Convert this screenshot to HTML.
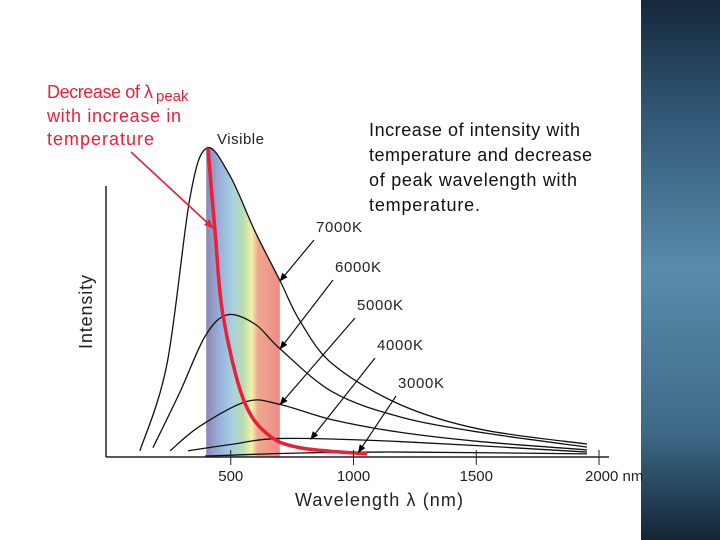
<!DOCTYPE html>
<html><head><meta charset="utf-8"><style>
html,body{margin:0;padding:0;background:#fff;width:720px;height:540px;overflow:hidden}
svg{display:block}
text{font-family:"Liberation Sans",sans-serif}
</style></head><body>
<svg id="chart" width="720" height="540" viewBox="0 0 720 540">
<defs>
<linearGradient id="side" x1="0" y1="0" x2="0" y2="1">
<stop offset="0" stop-color="#15283a"/><stop offset="0.2" stop-color="#2f5573"/><stop offset="0.5" stop-color="#5a8bab"/><stop offset="0.8" stop-color="#3e6a88"/><stop offset="1" stop-color="#132536"/>
</linearGradient>
<linearGradient id="spec" x1="0" y1="0" x2="1" y2="0">
<stop offset="0" stop-color="#8a88b4"/><stop offset="0.2" stop-color="#9ab4dc"/><stop offset="0.35" stop-color="#a8d0e0"/><stop offset="0.5" stop-color="#b8dcb0"/><stop offset="0.62" stop-color="#f4f0a8"/><stop offset="0.7" stop-color="#f0a890"/><stop offset="1" stop-color="#ee8c84"/>
</linearGradient>
<clipPath id="under7000"><path id="clip7000"/></clipPath>
<marker id="ah" viewBox="0 0 10 10" refX="9" refY="5" markerWidth="7" markerHeight="7" orient="auto"><path d="M0,1 L10,5 L0,9 z" fill="#000"/></marker>
<marker id="ahr" viewBox="0 0 10 10" refX="9" refY="5" markerWidth="6" markerHeight="6" orient="auto"><path d="M0,1 L10,5 L0,9 z" fill="#e8203a"/></marker>
</defs>
<rect x="641" y="0" width="79" height="540" fill="url(#side)"/>
<g id="marks"></g>
<line x1="106" y1="186" x2="106" y2="457" stroke="#222" stroke-width="1.5"/>
<line x1="106" y1="457" x2="609" y2="457" stroke="#222" stroke-width="1.5"/>
<g id="ticks"></g>
<text x="92" y="312" font-size="18" fill="#222" text-anchor="middle" textLength="74" transform="rotate(-90 92 312)">Intensity</text>
<text x="295" y="506" font-size="18" fill="#222" textLength="168">Wavelength &#955;  (nm)</text>
<g fill="#e8203a" font-size="18">
<text x="47" y="98"><tspan textLength="106">Decrease of &#955;</tspan><tspan font-size="15" dy="3" x="156">peak</tspan></text>
<text x="47" y="122" textLength="134">with increase in</text>
<text x="47" y="145" textLength="107">temperature</text>
</g>
<text x="217" y="144" font-size="15" fill="#222" textLength="47">Visible</text>
<g fill="#111" font-size="18">
<text x="369" y="136" textLength="211">Increase of intensity with</text>
<text x="369" y="161" textLength="223">temperature and decrease</text>
<text x="369" y="186" textLength="208">of peak wavelength with</text>
<text x="369" y="211" textLength="111">temperature.</text>
</g>
<line x1="131" y1="152" x2="213" y2="228" stroke="#e8203a" stroke-width="1.6" marker-end="url(#ahr)"/>
<g id="labels" font-size="15" fill="#222"></g>
</svg>
<script>
const tickValues=[500,1000,1500,2000];
const tickLabels=["500","1000","1500","2000 nm"];
const temps=["7000K","6000K","5000K","4000K","3000K"];
const wl7000=[130,240,334,403,497,599,701,782,916,1189,1515,1951];
const in7000=[2,30,84,100,91,73,57,44,30,17,9,4.2];
const wl6000=[183,293,395,485,599,701,916,1189,1515,1951];
const in6000=[3,21,39,46,43,35,21,13,8,3.2];
const wl5000=[253,375,566,701,916,1189,1515,1951];
const in5000=[2,10,18,17,12,8,5,2.3];
const wl4000=[326,497,713,1189,1951];
const in4000=[2,4,6,5,1.6];
const wl3000=[395,782,1189,1951];
const in3000=[0.3,1.3,1.6,1];
const wlPeak=[407,436,468,550,648,782,1055];
const inPeak=[100,73,46,19,7.5,3,1];
const visibleRange=[400,700];
const labelPos=[[316,232],[335,272],[357,310],[377,350],[398,388]];
const arrowTargetWl=[701,701,701,826,1020];

const xs=nm=>108+nm*0.2455;
const ys=v=>457-v*3.09;
const NS="http://www.w3.org/2000/svg";
const marks=document.getElementById('marks');
function smooth(wl,iv){
  const p=wl.map((w,i)=>[xs(w),ys(iv[i])]);
  let d="M"+p[0][0]+","+p[0][1];
  for(let i=0;i<p.length-1;i++){
    const p0=p[i-1]||p[i],p1=p[i],p2=p[i+1],p3=p[i+2]||p2;
    const c1=[p1[0]+(p2[0]-p0[0])/6,p1[1]+(p2[1]-p0[1])/6];
    const c2=[p2[0]-(p3[0]-p1[0])/6,p2[1]-(p3[1]-p1[1])/6];
    d+=" C"+c1+" "+c2+" "+p2;
  }
  return d;
}
function interp(wl,iv,w){
  for(let i=0;i<wl.length-1;i++) if(w>=wl[i]&&w<=wl[i+1]) return iv[i]+(iv[i+1]-iv[i])*(w-wl[i])/(wl[i+1]-wl[i]);
  return iv[iv.length-1];
}
const d7=smooth(wl7000,in7000);
document.getElementById('clip7000').setAttribute('d',d7+" L"+xs(wl7000[wl7000.length-1])+",457 L"+xs(wl7000[0])+",457 Z");
const band=document.createElementNS(NS,'rect');


band.setAttribute('x',xs(visibleRange[0]));band.setAttribute('y',100);
band.setAttribute('width',xs(visibleRange[1])-xs(visibleRange[0]));band.setAttribute('height',357);
band.setAttribute('fill','url(#spec)');band.setAttribute('clip-path','url(#under7000)');
marks.appendChild(band);
const series=[[wl7000,in7000],[wl6000,in6000],[wl5000,in5000],[wl4000,in4000],[wl3000,in3000]];
series.forEach((s,i)=>{
  const p=document.createElementNS(NS,'path');
  
  
  p.setAttribute('d',smooth(s[0],s[1]));p.setAttribute('fill','none');p.setAttribute('stroke','#111');p.setAttribute('stroke-width','1.3');
  marks.appendChild(p);
});
const rp=document.createElementNS(NS,'path');


rp.setAttribute('d',smooth(wlPeak,inPeak));rp.setAttribute('fill','none');rp.setAttribute('stroke','#e8203a');rp.setAttribute('stroke-width','3.5');
marks.appendChild(rp);
const labels=document.getElementById('labels');
temps.forEach((t,i)=>{
  const tx=document.createElementNS(NS,'text');
  
  
  tx.setAttribute('x',labelPos[i][0]);tx.setAttribute('y',labelPos[i][1]);tx.setAttribute('textLength','46');tx.textContent=t;
  labels.appendChild(tx);
  const s=series[i],w=arrowTargetWl[i];
  const a=document.createElementNS(NS,'line');
  
  
  a.setAttribute('x1',labelPos[i][0]-2);a.setAttribute('y1',labelPos[i][1]+8);
  a.setAttribute('x2',xs(w));a.setAttribute('y2',ys(interp(s[0],s[1],w)));
  a.setAttribute('stroke','#111');a.setAttribute('stroke-width','1.2');a.setAttribute('marker-end','url(#ah)');
  labels.appendChild(a);
});
const ticks=document.getElementById('ticks');
tickValues.forEach((v,i)=>{
  const l=document.createElementNS(NS,'line');
  
  
  l.setAttribute('x1',xs(v));l.setAttribute('x2',xs(v));l.setAttribute('y1',450);l.setAttribute('y2',465);l.setAttribute('stroke','#222');
  ticks.appendChild(l);
  const t=document.createElementNS(NS,'text');
  
  
  t.setAttribute('x',xs(v)+(i==3?-14:0));t.setAttribute('y',481);t.setAttribute('font-size','15');t.setAttribute('fill','#222');
  t.setAttribute('text-anchor',i==3?'start':'middle');t.textContent=tickLabels[i];
  ticks.appendChild(t);
});
</script>
</body></html>
